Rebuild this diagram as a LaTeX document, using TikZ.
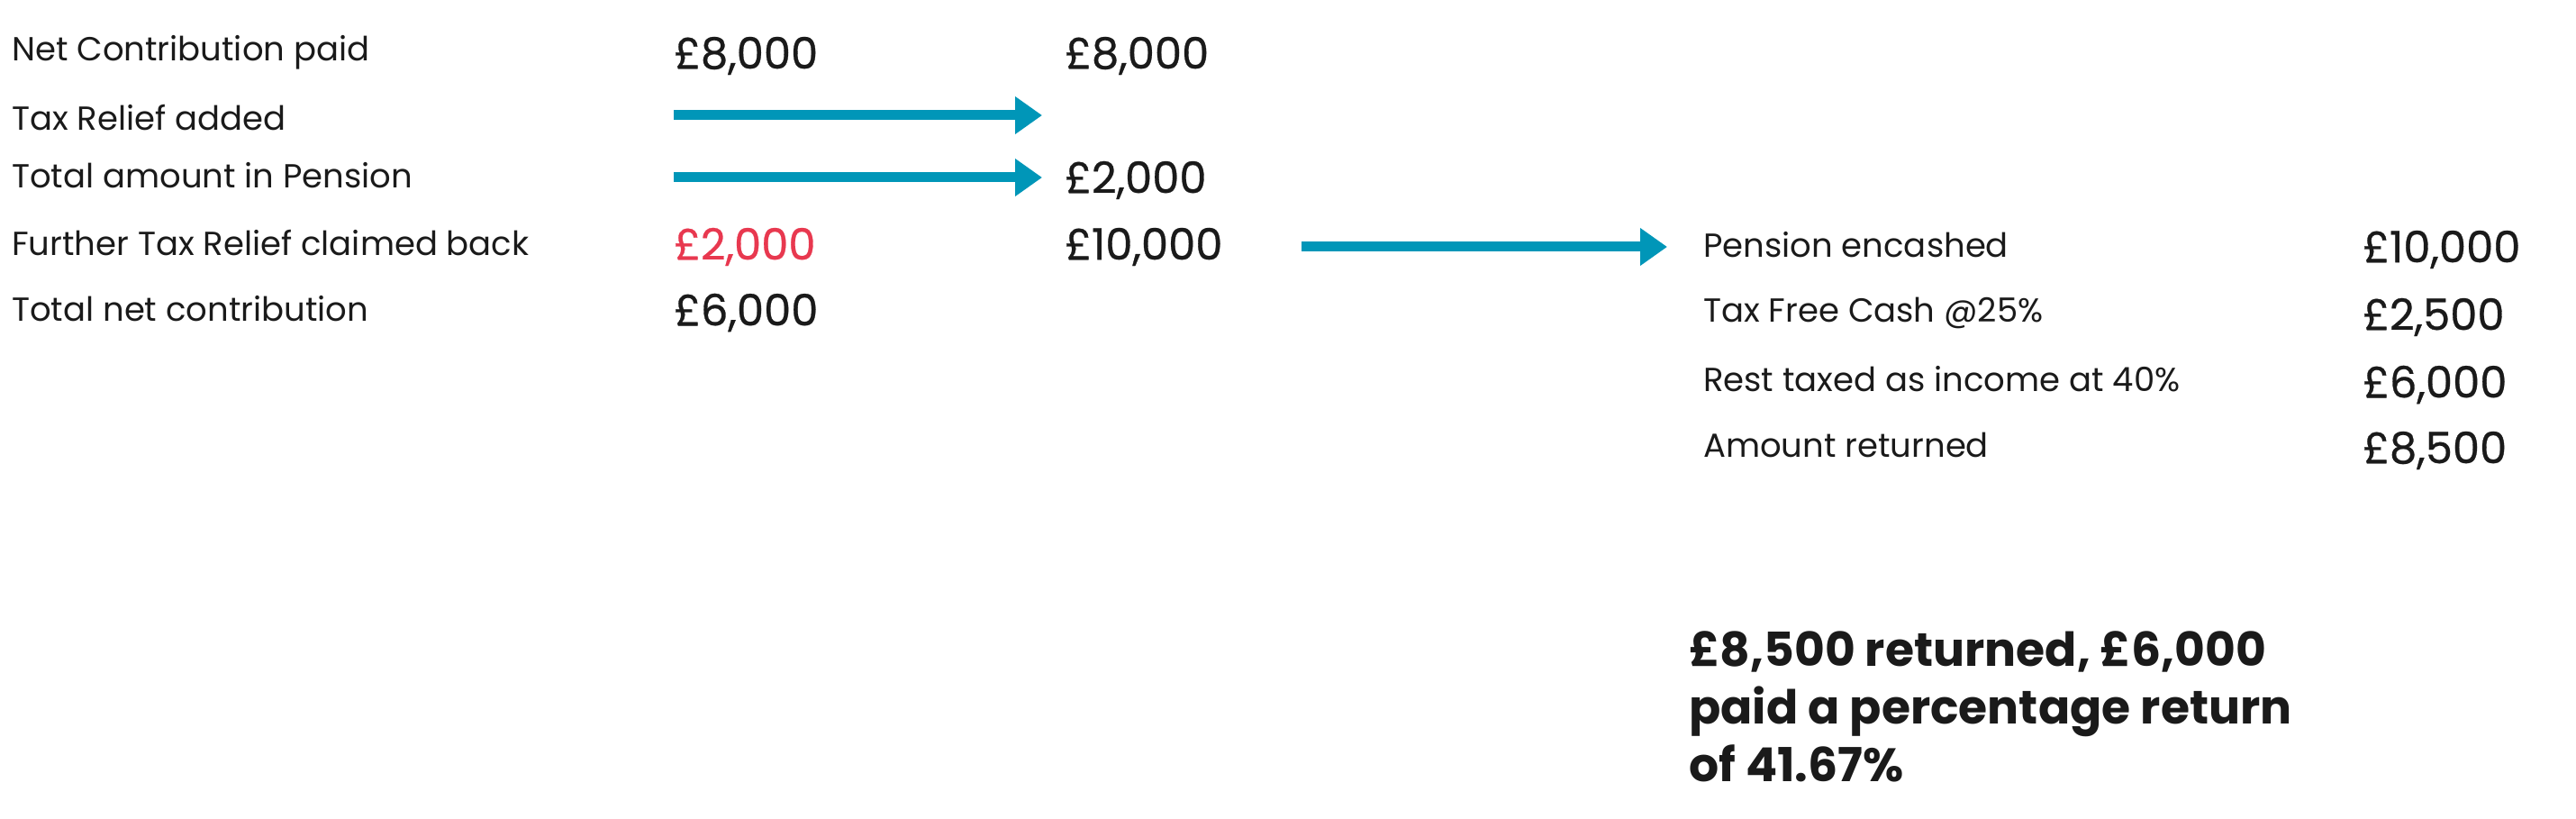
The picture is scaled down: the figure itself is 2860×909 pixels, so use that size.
\documentclass[tikz,border=0pt]{standalone}
\usepackage{fontspec}
\setmainfont{Poppins}
\usetikzlibrary{arrows.meta}
\definecolor{arr}{HTML}{0096B8}
\definecolor{redt}{HTML}{E8384F}
\definecolor{txt}{HTML}{1A1A1A}
\begin{document}
\begin{tikzpicture}[x=1pt,y=-1pt,
  lab/.style={anchor=west,inner sep=0,font=\fontsize{37}{44}\selectfont,text=txt},
  amt/.style={anchor=west,inner sep=0,font=\fontsize{48}{56}\selectfont\addfontfeature{FakeBold=0.6},text=txt},
  big/.style={anchor=north west,inner sep=0,align=left,font=\fontsize{52}{64}\selectfont\bfseries,text=txt},
  flow/.style={draw=arr,line width=11pt,-{Triangle[length=30pt,width=40pt]}}]
\useasboundingbox (0,0) rectangle (2860,909);
\node[lab] (l1) at (13,58) {Net Contribution paid};
\node[lab] (l2) at (13,131) {Tax Relief added};
\node[lab] (l3) at (13,195) {Total amount in Pension};
\node[lab] (l4) at (13,270) {Further Tax Relief claimed back};
\node[lab] (l5) at (13,343) {Total net contribution};
\node[amt] (a1) at (748,62) {£8,000};
\node[amt,text=redt] (a4) at (748,274) {£2,000};
\node[amt] (a5) at (748,347) {£6,000};
\node[amt] (b1) at (1182,62) {£8,000};
\node[amt] (b3) at (1182,200) {£2,000};
\node[amt] (b4) at (1182,274) {£10,000};
\coordinate (s1) at (748,128); \coordinate (e1) at (1157,128);
\coordinate (s2) at (748,197); \coordinate (e2) at (1157,197);
\coordinate (s3) at (1445,274); \coordinate (e3) at (1851,274);
\draw[flow] (s1) -- (e1);
\draw[flow] (s2) -- (e2);
\draw[flow] (s3) -- (e3);
\node[lab] (r1) at (1891,272) {Pension encashed};
\node[lab] (r2) at (1891,347) {Tax Free Cash @25\%};
\node[lab] (r3) at (1891,421) {Rest taxed as income at 40\%};
\node[lab] (r4) at (1891,494) {Amount returned};
\node[amt] (c1) at (2623,277) {£10,000};
\node[amt] (c2) at (2623,352) {£2,500};
\node[amt] (c3) at (2623,427) {£6,000};
\node[amt] (c4) at (2623,500) {£8,500};
\node[big] (sum) at (1875,700) {£8,500 returned, £6,000\\paid a percentage return\\of 41.67\%};
\end{tikzpicture}
\end{document}
